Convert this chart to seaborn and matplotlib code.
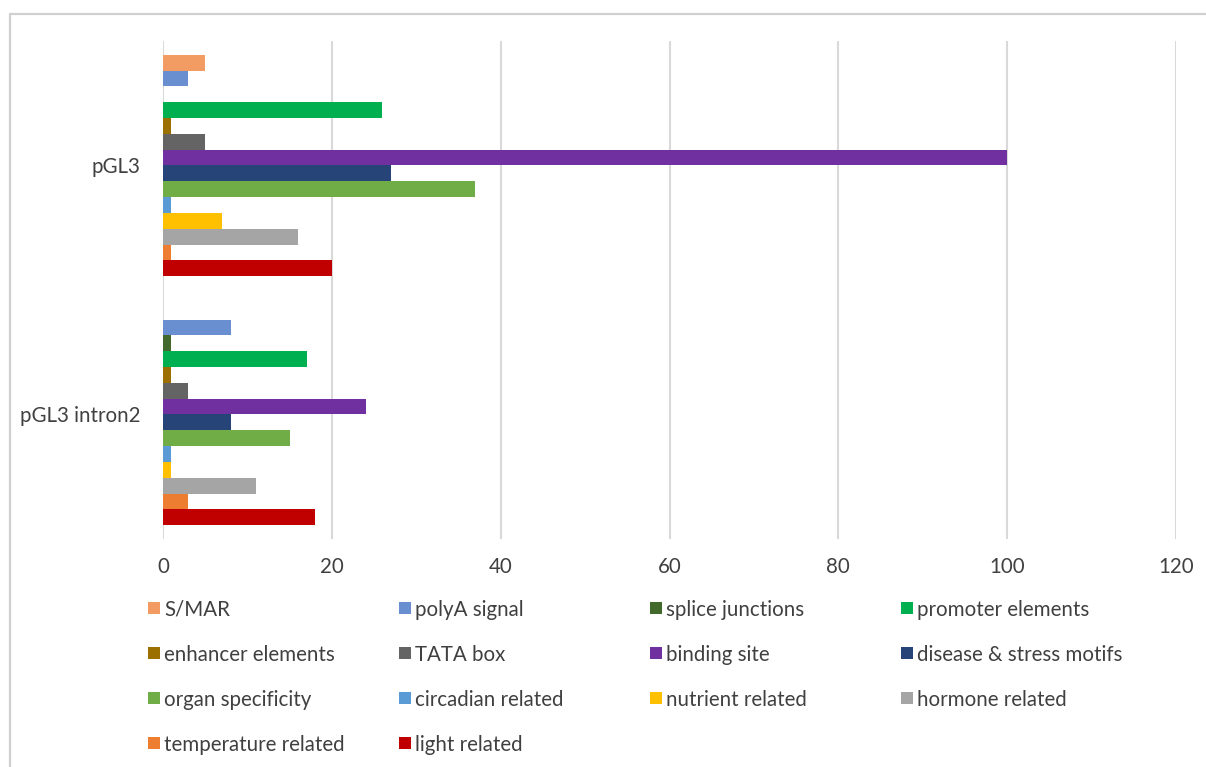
import matplotlib
matplotlib.use("Agg")
import matplotlib.pyplot as plt
from matplotlib.lines import Line2D
from matplotlib.patches import Rectangle
import seaborn as sns
import pandas as pd

# Constructs (y categories) and regulatory element classes (hue series)
constructs = ["pGL3", "pGL3 intron2"]
elements = [
    "S/MAR", "polyA signal", "splice junctions", "promoter elements",
    "enhancer elements", "TATA box", "binding site", "disease & stress motifs",
    "organ specificity", "circadian related", "nutrient related", "hormone related",
    "temperature related", "light related",
]
counts_pgl3 = [5, 3, 0, 26, 1, 5, 100, 27, 37, 1, 7, 16, 1, 20]
counts_intron2 = [0, 8, 1, 17, 1, 3, 24, 8, 15, 1, 1, 11, 3, 18]
x_ticks = [0, 20, 40, 60, 80, 100, 120]

colors = [
    "#F29B62", "#6A8FD0", "#43682B", "#00B050",
    "#9C7000", "#646464", "#7030A0", "#264478",
    "#70AD47", "#5B9BD5", "#FFC000", "#A5A5A5",
    "#ED7D31", "#C00000",
]

df = pd.DataFrame({
    "construct": [constructs[0]] * len(elements) + [constructs[1]] * len(elements),
    "element": elements * 2,
    "count": counts_pgl3 + counts_intron2,
})

sns.set_theme(style="white")
plt.rcParams["font.family"] = ["Lato", "DejaVu Sans"]
TXT = "#404040"

W, H = 1206, 767
fig = plt.figure(figsize=(W / 100, H / 100), dpi=100)
ax = fig.add_axes([163 / W, 1 - 539 / H, (1176 - 163) / W, (539 - 41) / H])

sns.barplot(
    data=df, y="construct", x="count", hue="element",
    hue_order=elements, order=constructs, palette=colors, saturation=1,
    orient="h", width=0.89, dodge=True, linewidth=0,
    legend=False, ax=ax, zorder=3,
)

ax.set_xlim(0, 120)
ax.set_ylim(1.5, -0.5)
ax.set_xticks(x_ticks)
ax.set_xticklabels([str(t) for t in x_ticks])
ax.set_xlabel("")
ax.set_ylabel("")
ax.grid(axis="x", color="#D9D9D9", linewidth=1.5, zorder=0)
ax.grid(axis="y", visible=False)
ax.set_axisbelow(True)
for s in ax.spines.values():
    s.set_visible(False)
ax.tick_params(axis="x", length=0, pad=13, labelsize=14.8, labelcolor=TXT)
ax.tick_params(axis="y", length=0, pad=16, labelsize=14.8, labelcolor=TXT)

# Chart-area frame
fig.add_artist(Line2D([10 / W, 1.0], [1 - 14 / H, 1 - 14 / H],
                      transform=fig.transFigure, color="#D0D0D0", linewidth=1.6))
fig.add_artist(Line2D([10 / W, 10 / W], [1 - 14 / H, 0.0],
                      transform=fig.transFigure, color="#D0D0D0", linewidth=1.6))

# Legend: four columns, filled row by row
col_x = [148, 399, 650, 901]
row_y = [608, 653, 698, 743]
sq = 12
for i, (name, c) in enumerate(zip(elements, colors)):
    r, k = divmod(i, 4)
    x0, yc = col_x[k], row_y[r]
    fig.add_artist(Rectangle((x0 / W, 1 - (yc + sq / 2) / H), sq / W, sq / H,
                             transform=fig.transFigure, facecolor=c, edgecolor="none"))
    fig.text((x0 + sq + 4) / W, 1 - yc / H, name, ha="left", va="center_baseline",
             fontsize=14.8, color=TXT)

fig.savefig("out.png", dpi=100, facecolor="white")
